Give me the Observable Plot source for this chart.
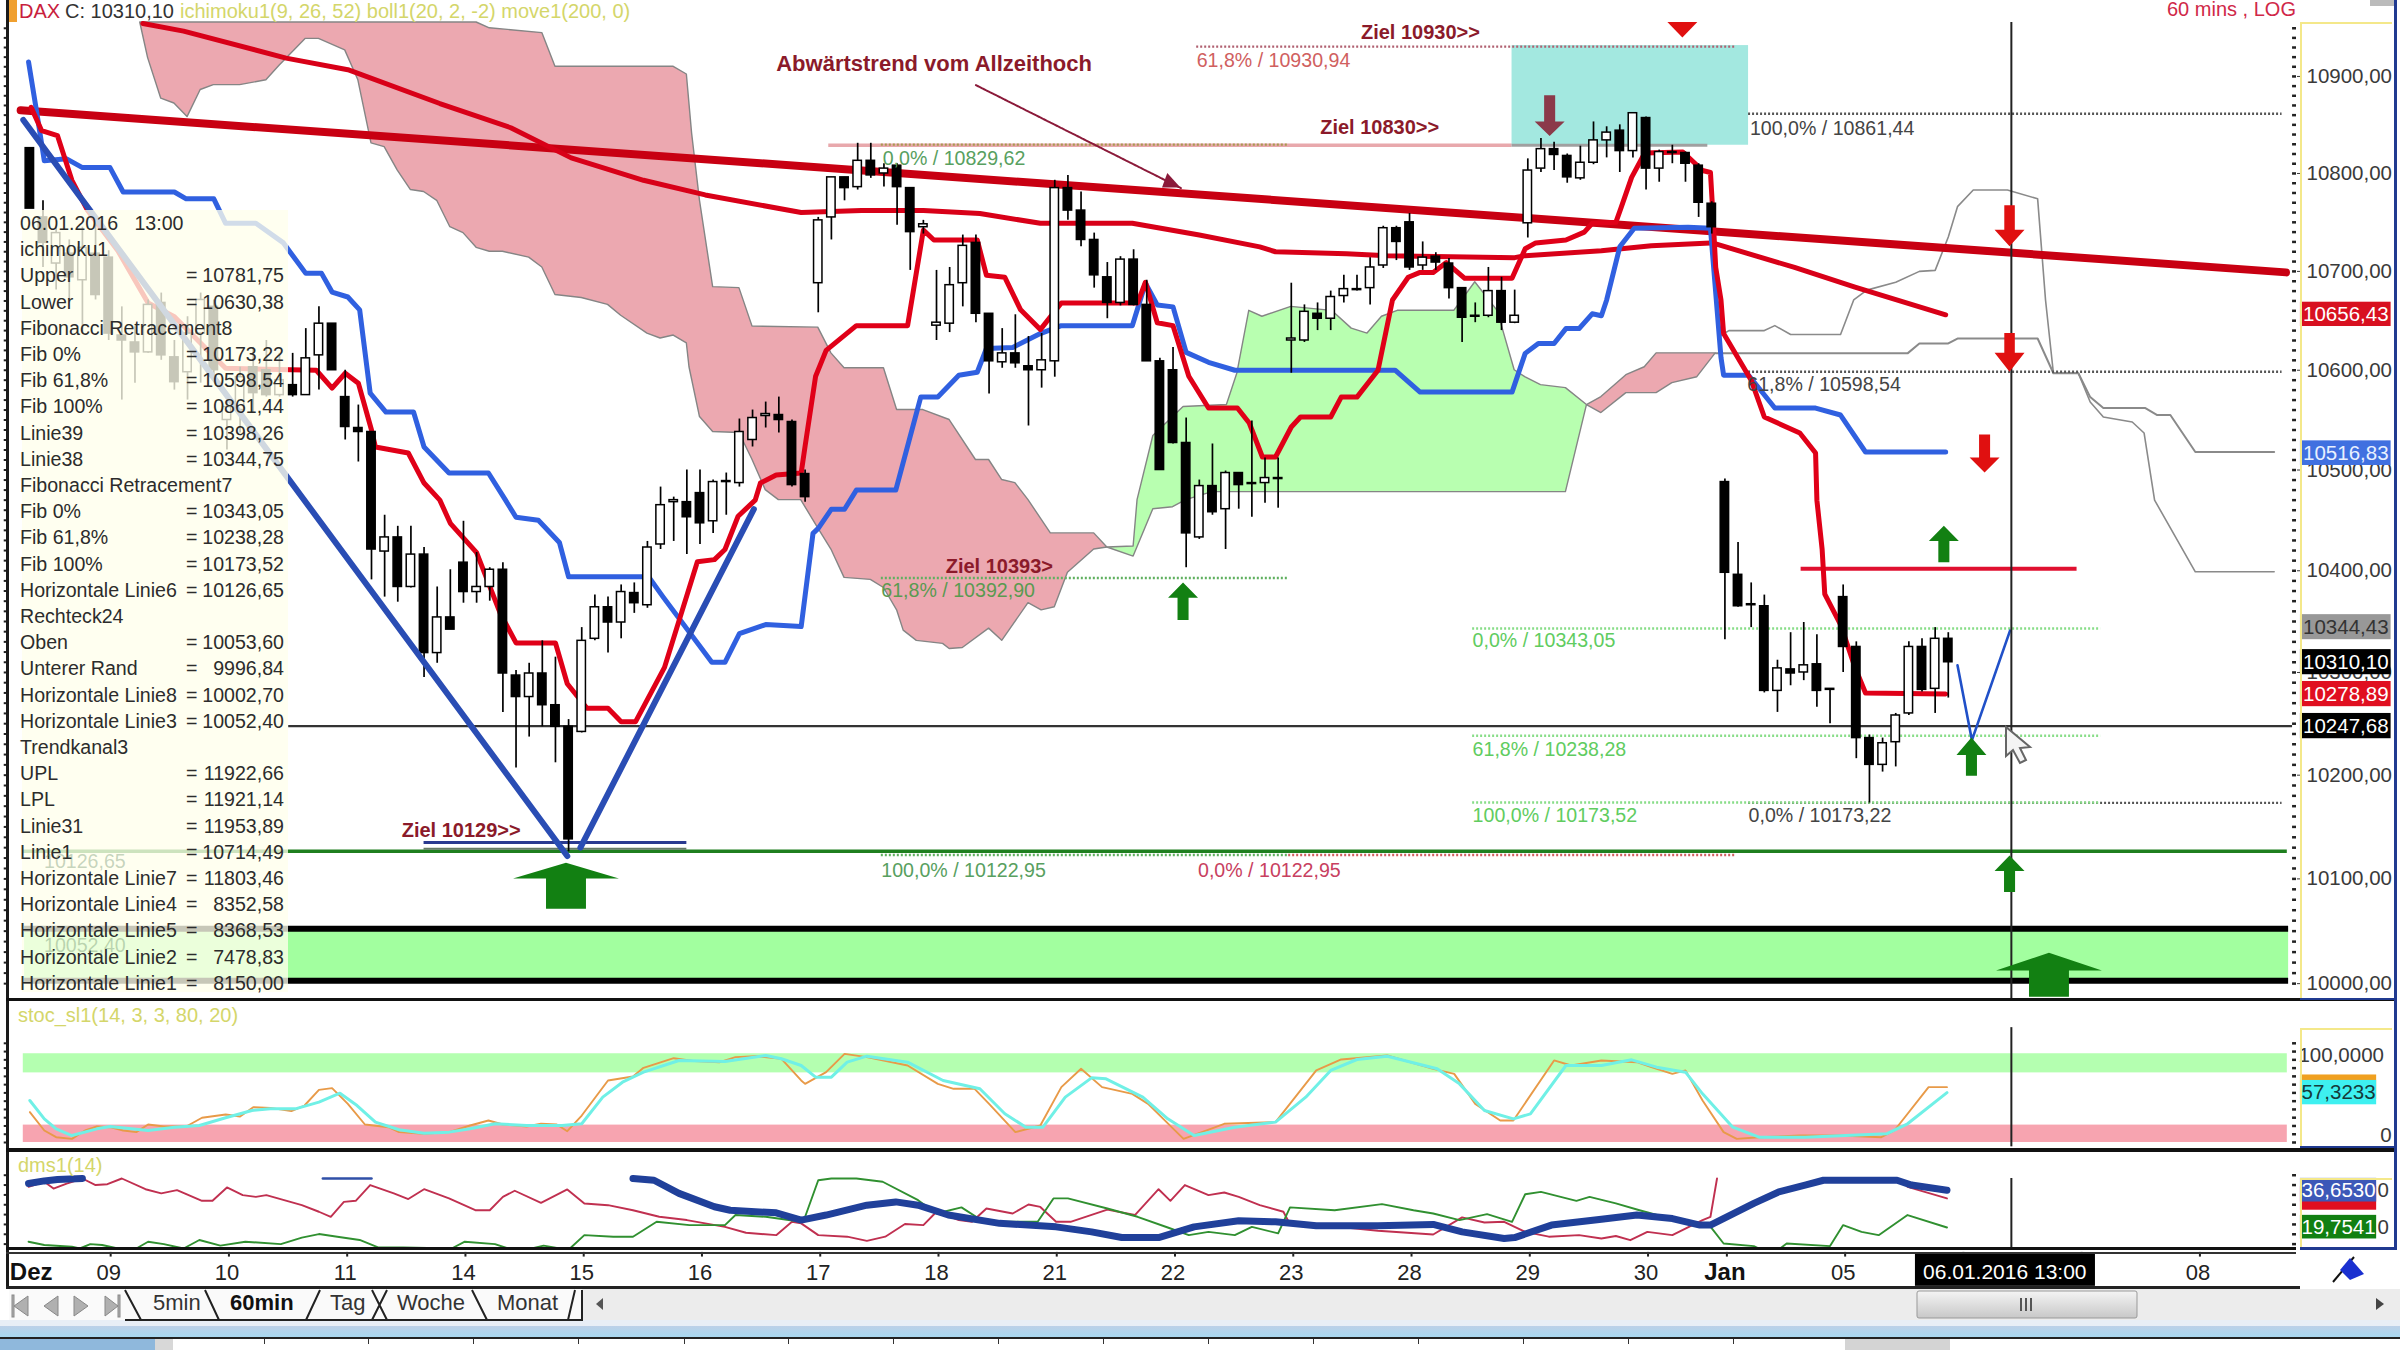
<!DOCTYPE html>
<html lang="de"><head><meta charset="utf-8">
<script src="https://cdn.jsdelivr.net/npm/d3@7"></script>
<script src="https://cdn.jsdelivr.net/npm/@observablehq/plot@0.6"></script>
<style>
html,body{margin:0;padding:0;background:#fff;}
#page{position:relative;width:2400px;height:1350px;overflow:hidden;background:#fff;font-family:"Liberation Sans",Arial,sans-serif;}
#page>svg,.abs{position:absolute;}
.lg{position:absolute;left:20px;font-size:19.6px;color:#2c2c2c;white-space:pre;line-height:26px;height:26px;}
.t{position:absolute;white-space:pre;line-height:1;}
</style></head><body><div id="page"></div>
<script>
// [bar, open, high, low, close]
const candles=[[-6,10826,10826,10764,10764],[-5,10755,10772,10704,10729],[-4,10708,10745,10681,10739],[-3,10718,10732,10671,10694],[-2,10691,10745,10637,10724],[-1,10718,10755,10671,10676],[0,10714,10721,10630,10637],[1,10635,10664,10570,10630],[2,10628,10644,10587,10618],[3,10618,10671,10617,10666],[4,10668,10678,10610,10615],[5,10613,10630,10580,10588],[6,10598,10654,10570,10637],[7,10637,10678,10587,10671],[8,10664,10671,10593,10600],[9,10550,10570,10520,10563],[10,10560,10603,10537,10593],[11,10603,10623,10557,10577],[12,10600,10630,10573,10575],[13,10575,10617,10573,10590],[14,10585,10617,10573,10575],[15,10575,10642,10575,10612],[16,10615,10664,10580,10647],[17,10647,10647,10600,10600],[18,10573,10600,10530,10543],[19,10542,10565,10508,10538],[20,10538,10538,10391,10421],[21,10419,10455,10374,10433],[22,10433,10444,10369,10384],[23,10384,10444,10383,10416],[24,10416,10423,10295,10319],[25,10319,10384,10309,10354],[26,10354,10401,10344,10342],[27,10408,10449,10368,10379],[28,10379,10418,10368,10384],[29,10384,10403,10370,10401],[30,10401,10408,10261,10299],[31,10297,10302,10207,10276],[32,10276,10309,10237,10299],[33,10299,10331,10247,10268],[34,10268,10315,10212,10247],[35,10247,10254,10126,10138],[36,10242,10344,10241,10331],[37,10333,10376,10331,10364],[38,10364,10374,10319,10349],[39,10349,10386,10333,10379],[40,10378,10388,10358,10368],[41,10366,10429,10363,10423],[42,10426,10483,10421,10465],[43,10468,10473,10429,10470],[44,10468,10500,10416,10453],[45,10477,10500,10426,10447],[46,10449,10490,10437,10488],[47,10488,10497,10455,10489],[48,10487,10551,10483,10538],[49,10530,10560,10523,10552],[50,10554,10568,10542,10556],[51,10555,10573,10537,10550],[52,10548,10550,10483,10485],[53,10496,10500,10468,10473],[54,10688,10755,10658,10752],[55,10755,10796,10732,10796],[56,10796,10796,10772,10785],[57,10786,10831,10783,10813],[58,10813,10831,10795,10798],[59,10800,10810,10786,10805],[60,10808,10810,10747,10786],[61,10785,10785,10701,10740],[62,10745,10752,10738,10748],[63,10645,10701,10630,10648],[64,10647,10704,10638,10686],[65,10688,10737,10664,10726],[66,10729,10737,10648,10657],[67,10657,10657,10576,10609],[68,10608,10642,10602,10617],[69,10617,10656,10602,10607],[70,10604,10634,10544,10600],[71,10600,10637,10582,10610],[72,10609,10793,10593,10785],[73,10785,10798,10752,10762],[74,10762,10781,10725,10732],[75,10732,10739,10683,10696],[76,10694,10709,10652,10668],[77,10668,10715,10665,10712],[78,10712,10722,10665,10666],[79,10666,10691,10609,10609],[80,10609,10612,10500,10500],[81,10600,10623,10526,10527],[82,10527,10552,10403,10437],[83,10433,10490,10431,10484],[84,10484,10526,10455,10458],[85,10461,10499,10421,10497],[86,10497,10497,10461,10485],[87,10486,10549,10453,10487],[88,10487,10512,10467,10492],[89,10491,10512,10462,10492],[90,10630,10688,10597,10632],[91,10630,10666,10628,10659],[92,10657,10668,10640,10652],[93,10652,10680,10640,10674],[94,10675,10696,10668,10682],[95,10681,10696,10680,10682],[96,10683,10714,10666,10704],[97,10706,10746,10703,10744],[98,10744,10746,10711,10730],[99,10750,10759,10701,10704],[100,10706,10730,10701,10714],[101,10715,10719,10701,10709],[102,10708,10713,10672,10683],[103,10683,10683,10628,10653],[104,10654,10668,10648,10655],[105,10655,10704,10653,10680],[106,10680,10694,10640,10648],[107,10648,10681,10647,10655],[108,10749,10815,10734,10803],[109,10805,10836,10801,10825],[110,10825,10832,10803,10819],[111,10818,10820,10790,10796],[112,10795,10828,10793,10811],[113,10811,10853,10809,10834],[114,10834,10848,10816,10842],[115,10844,10850,10801,10823],[116,10823,10862,10816,10862],[117,10857,10858,10783,10805],[118,10805,10824,10791,10822],[119,10821,10829,10810,10822],[120,10821,10822,10791,10810],[121,10808,10810,10755,10770],[122,10769,10771,10738,10745],[123,10488,10491,10332,10398],[124,10396,10428,10364,10365],[125,10366,10388,10344,10367],[126,10365,10376,10280,10282],[127,10282,10312,10261,10304],[128,10303,10339,10287,10299],[129,10300,10349,10292,10307],[130,10308,10337,10266,10282],[131,10283,10284,10250,10284],[132,10374,10386,10300,10325],[133,10325,10330,10216,10236],[134,10236,10239,10173,10210],[135,10210,10236,10203,10231],[136,10232,10260,10208,10258],[137,10260,10330,10258,10325],[138,10325,10333,10281,10283],[139,10284,10344,10260,10333],[140,10333,10339,10275,10310]];
const tenkan=[[-5.9,10868],[-5.1,10844],[-3.9,10839],[-2.8,10793],[-1.6,10762],[.7,10721],[3,10668],[5,10654],[8.9,10602],[15.8,10600],[17,10582],[18,10597],[19,10587],[20,10540],[20.3,10523],[22.8,10517],[24,10487],[25.2,10470],[26,10447],[28,10418],[29.8,10358],[31,10329],[34,10329],[34.9,10289],[36.4,10265],[38,10265],[39,10252],[40.1,10252],[42.3,10305],[44.8,10409],[46.1,10411],[46.9,10421],[47.9,10454],[49.2,10470],[49.6,10487],[50.8,10495],[52.7,10497],[53,10524],[53.8,10594],[54.6,10620],[56.9,10645],[60.8,10645],[62,10742],[62.8,10732],[66.1,10732],[66.8,10696],[68.2,10694],[69.4,10661],[70.9,10641],[72.5,10668],[78.3,10668],[78.9,10689],[79.8,10648],[81,10645],[82.2,10594],[83.7,10562],[85.9,10562],[86.8,10547],[87.8,10513],[88.8,10513],[90,10543],[90.7,10553],[93,10553],[93.8,10573],[95,10573],[96.6,10600],[97.7,10671],[98.9,10694],[99.8,10699],[100.8,10699],[101.8,10709],[103.2,10693],[106.8,10693],[107.8,10723],[108.6,10729],[110.9,10732],[112.3,10740],[112.9,10749],[114.7,10750],[115.1,10765],[115.9,10796],[116.9,10821],[119.8,10822],[121.3,10803],[121.9,10801],[122.1,10755],[122.3,10704],[122.7,10671],[122.9,10637],[125,10590],[126,10553],[128.7,10537],[129.9,10517],[130,10470],[130.4,10421],[130.6,10377],[131.8,10347],[132.9,10305],[133.7,10280],[139.8,10279]];
const kijun=[[-6.1,10915],[-5.5,10865],[-4.9,10813],[-3.2,10815],[-2,10806],[.1,10806],[1.1,10781],[5,10781],[5.9,10774],[8,10774],[8.9,10749],[11.2,10749],[13.3,10729],[13.9,10718],[15,10698],[16.2,10698],[17,10679],[18.2,10674],[19.1,10661],[19.9,10577],[21.1,10558],[23.2,10558],[24,10523],[25.9,10497],[28.9,10497],[30.2,10470],[31,10453],[32.7,10450],[34.3,10428],[35,10394],[41.1,10394],[42.2,10374],[45.9,10310],[46.9,10310],[48,10338],[50,10347],[52.7,10345],[53.6,10437],[54,10442],[55,10461],[56,10461],[56.9,10480],[59.9,10480],[61.8,10573],[63.1,10573],[64.7,10595],[66.1,10598],[66.8,10622],[68.8,10623],[70.9,10637],[72.5,10645],[77.9,10645],[78.9,10688],[79.8,10666],[81,10664],[82,10618],[83.7,10608],[85.7,10600],[97.9,10600],[99.8,10578],[106.8,10578],[107.8,10617],[108.8,10627],[110,10627],[110.9,10642],[111.9,10642],[112.9,10657],[113.6,10655],[114,10671],[115,10725],[116.1,10744],[120.2,10745],[121.9,10744],[122.7,10613],[122.9,10595],[124.8,10595],[126.8,10562],[129.9,10562],[131.8,10555],[133.7,10518],[139.8,10518]];
const movingAvg=[[2.6,10955],[5.7,10947],[13.5,10919],[18.2,10907],[25.2,10872],[30.6,10847],[35.2,10816],[40.7,10793],[45.4,10778],[52.7,10760],[57.3,10762],[62,10762],[66.3,10759],[70.9,10749],[77.9,10749],[83,10737],[87.6,10725],[88.8,10720],[94.2,10718],[97.3,10716],[107,10714],[107.8,10716],[113.6,10721],[117.4,10726],[121.9,10729],[122.3,10728],[128.3,10704],[132.9,10684],[139.8,10656]];
const spanA=[[122.3,10617],[136.9,10617],[137.8,10627],[140,10627],[140.7,10632],[146.8,10632],[148,10597],[149.9,10597],[150.8,10573],[151.8,10562],[155,10562],[155.9,10555],[156.9,10555],[158.8,10518],[164.8,10518]];
const spanB=[[122.7,10635],[123.3,10640],[126,10640],[126.8,10645],[128,10636],[131.8,10636],[132.8,10671],[133.8,10681],[136,10689],[137.8,10700],[139,10701],[140,10735],[140.7,10766],[141.9,10783],[144.5,10783],[146.8,10774],[147.4,10671],[148,10597],[149.9,10597],[150.8,10568],[151.8,10553],[154,10548],[154.9,10537],[155.7,10470],[158.8,10399],[164.8,10399]];
const cloudPink1=[[2.4,10956],[28,10956],[29,10950],[33,10945],[34,10910],[43,10910],[44,10902],[44.4,10841],[45,10772],[46,10684],[48,10683],[49,10644],[54,10643],[55,10617],[56,10602],[59,10602],[60,10560],[62,10560],[64,10550],[66,10510],[67,10510],[68,10490],[69,10487],[70,10470],[71.7,10437],[75,10437],[76,10423],[75,10421],[73,10398],[72,10364],[71,10361],[70,10368],[68,10331],[67,10343],[65,10324],[64,10323],[63.5,10328],[61.5,10331],[60.5,10341],[60,10361],[59,10383],[58,10391],[56,10393],[55,10421],[54,10442],[52.7,10470],[51,10470],[50,10480],[49,10510],[48,10537],[46,10538],[45,10553],[44.2,10603],[44,10627],[43,10635],[42,10632],[41,10637],[39,10655],[38,10666],[36,10673],[34,10676],[33,10704],[32,10714],[30,10720],[29,10720],[28,10724],[27,10739],[26,10745],[25,10772],[24,10781],[23,10783],[22,10803],[21,10827],[20,10831],[19,10896],[18,10927],[16,10939],[15,10939],[13,10911],[12,10896],[10,10891],[8,10891],[7,10886],[6,10858],[5,10872],[4,10877],[3,10919],[2.4,10956]];
const cloudGreen=[[76,10423],[78,10424],[78.3,10470],[79.5,10534],[81.8,10563],[85.1,10565],[85.9,10597],[86.8,10660],[87.8,10654],[90,10664],[93.1,10660],[94.6,10642],[95.8,10637],[96.9,10654],[98.1,10660],[102.4,10660],[104,10689],[105.7,10660],[107,10600],[107.8,10593],[109,10585],[110.9,10582],[112.5,10565],[110.9,10478],[84,10478],[82,10470],[81,10463],[79.5,10461],[78,10414],[76,10423]];
const cloudPink2=[[112.5,10565],[113.6,10573],[115.5,10595],[116.9,10603],[117.8,10617],[122.3,10617],[120.9,10593],[119,10587],[117.8,10577],[115.5,10577],[113.6,10557],[112.5,10565]];
const trendRed=[[-6.7,10865],[165.7,10699]];
const vLeft=[[-6.5,10855],[34.9,10122]];
const vRight=[[35.9,10130],[49.1,10461]];
const vSmall=[[140.7,10307],[141.8,10234],[144.7,10341]];
// horizontal levels: price, from bar, to bar
const solidLevels=[[10247.68,13.7,166.2,"#333",2.2],[10126.65,-6.5,165.8,"#1f7f1f",3.5],[10135,24,44,"#2a3a90",3],[10129,24,44,"#667a66",2],[10829,54.8,106.8,"#e8a8ac",3.5],[10829,106.8,121.7,"#a0a0a0",3],[10402,128.8,149.8,"#e01030",4]];
const heavyLevels=[10052.40,10002.70];
const dottedLevels=[[10829.62,58.8,89.8,"#a89a50"],[10930.94,82.8,123.8,"#b06070"],[10861.44,124.8,165.4,"#555"],[10598.54,124.8,165.4,"#555"],[10173.22,124.8,165.4,"#555"],[10392.90,58.8,89.8,"#60b060"],[10122.95,58.8,89.8,"#60b060"],[10122.95,89.8,123.8,"#d06060"],[10343.05,103.8,151.6,"#88dd88"],[10238.28,103.8,151.6,"#88dd88"],[10173.52,103.8,151.6,"#88dd88"]];
// block arrows: bar, tip, neck, tail, head half width, shaft half width, colour
const arrows=[[34.84,10115,10100,10071,4.03,1.52,"#128012"],[81.8,10388,10373,10351,1.14,.42,"#128012"],[109.7,10838,10853,10880,1.14,.42,"#8b3a4a"],[119.8,10940,10956,10956,1.14,0,"#e01010"],[144.7,10725,10742,10767,1.14,.4,"#e01010"],[144.7,10598,10617,10637,1.14,.4,"#e01010"],[142.8,10497,10512,10535,1.14,.42,"#e01010"],[139.7,10444,10429,10408,1.14,.42,"#128012"],[141.8,10236,10219,10199,1.14,.42,"#128012"],[144.7,10122,10107,10087,1.14,.42,"#128012"],[147.7,10029,10012,9987,4.03,1.52,"#128012"]];
const pointerLine=[66,10891,81.6,10785];
const pointerHead=[[81.6,10785],[80.6,10800],[80.2,10785],[81.6,10785]];
// labels: text, bar, price, colour, font size, bold
const notes=[["Abwärtstrend vom Allzeithoch",50.8,10913,"#8b1a2a",22,1],["Ziel 10930>>",95.3,10945,"#8b1a2a",20,1],["61,8% / 10930,94",82.8,10916,"#d06060",19.6,0],["Ziel 10830>>",92.2,10847,"#8b1a2a",20,1],["0,0% / 10829,62",58.9,10815,"#58a060",19.6,0],["100,0% / 10861,44",124.9,10846,"#444",19.6,0],["61,8% / 10598,54",124.7,10585,"#444",19.6,0],["Ziel 10393>",63.7,10404,"#8b1a2a",20,1],["61,8% / 10392,90",58.8,10380,"#5a9a50",19.6,0],["Ziel 10129>>",22.3,10146,"#8b1a2a",20,1],["100,0% / 10122,95",58.8,10108,"#58a060",19.6,0],["0,0% / 10122,95",82.9,10108,"#c84060",19.6,0],["0,0% / 10343,05",103.8,10331,"#60cc60",19.6,0],["61,8% / 10238,28",103.8,10225,"#60cc60",19.6,0],["100,0% / 10173,52",103.8,10161,"#60cc60",19.6,0],["0,0% / 10173,22",124.8,10161,"#444",19.6,0]];
const priceTicks=[10000,10100,10200,10300,10400,10500,10600,10700,10800,10900];
const priceTags=[[10656.43,"10656,43","#d81020","#fff"],[10516.83,"10516,83","#4070e0","#e8f0ff"],[10344.43,"10344,43","#989898","#333"],[10278.89,"10278,89","#e00f20","#fff"],[10310.10,"10310,10","#000","#fff"],[10247.68,"10247,68","#000","#fff"]];
const legendNames=["06.01.2016   13:00","ichimoku1","Upper","Lower","Fibonacci Retracement8","Fib 0%","Fib 61,8%","Fib 100%","Linie39","Linie38","Fibonacci Retracement7","Fib 0%","Fib 61,8%","Fib 100%","Horizontale Linie6","Rechteck24","Oben","Unterer Rand","Horizontale Linie8","Horizontale Linie3","Trendkanal3","UPL","LPL","Linie31","Linie1","Horizontale Linie7","Horizontale Linie4","Horizontale Linie5","Horizontale Linie2","Horizontale Linie1"];
const legendValues=["","","10781,75","10630,38","","10173,22","10598,54","10861,44","10398,26","10344,75","","10343,05","10238,28","10173,52","10126,65","","10053,60","9996,84","10002,70","10052,40","","11922,66","11921,14","11953,89","10714,49","11803,46","8352,58","8368,53","7478,83","8150,00"];
// stochastic
const stocK=[[-6,34.9],[-4.9,13.8],[-4,6.1],[-2.8,4.2],[-1.8,13.8],[-.9,18.4],[.1,17.6],[1.1,13.8],[2.1,11.9],[3,20.7],[4.2,18.4],[5.9,18.4],[7.1,28.4],[8.9,32.2],[10,29.9],[11,40.6],[12.3,39.8],[13.9,36],[14.9,42.5],[16,60.5],[17,62.5],[18.2,44.4],[19.5,20.7],[21.3,17.6],[22.1,11.9],[24,10],[25.9,11.9],[27.5,19.5],[28.9,25.3],[30,20.7],[31.8,18.4],[32.9,21.5],[34.1,20.7],[34.9,13],[36,31],[38,71.3],[39.9,75.9],[40.7,85.8],[43,96.9],[44.6,93.5],[46.5,92.3],[47.7,98.1],[49.2,99.2],[51.2,96.2],[52.7,71.3],[53,67.4],[54.6,80.8],[56,101.9],[57.7,98.1],[60.8,88.5],[63.1,67.4],[64.3,61.7],[65.9,61.7],[67,44.4],[69,11.9],[70.9,19.5],[72.5,63.6],[74,84.7],[75.6,63.6],[77.9,55.9],[79.1,44.4],[81.8,4.2],[84.9,21.5],[88.8,23.4],[91.9,82.8],[93.8,95.4],[97.3,100],[100.8,84.7],[102.4,78.9],[104,44.4],[105.9,25.3],[106.9,25.3],[110,94.3],[111.3,88.5],[113.6,94.3],[116.3,92.3],[117.4,86.6],[119,78.9],[120,82.8],[121.3,48.3],[122.9,11.9],[123.9,4.2],[125.6,6.1],[128.7,8],[131.8,8],[134.9,6.1],[135.9,13.8],[138.5,63.6],[139.9,63.6]];
const stocD=[[-6,48.3],[-4.9,27.2],[-4,15.7],[-2.8,8],[-.9,15.7],[.1,18.4],[3,13.8],[5,17.6],[6.9,19.5],[8.9,28.4],[10.9,36.8],[12.3,38.7],[14.2,38.7],[16,46.4],[17.6,56.7],[18.9,42.5],[20.3,23.4],[22.1,14.6],[24,10.7],[25.9,11.9],[27.5,15.7],[29.4,21.5],[31.8,19.5],[34.5,19.5],[36,21.5],[37.6,52.1],[39.1,69.3],[40.7,80.8],[43.4,94.2],[46.9,93.1],[50,100],[51.2,96.2],[52.7,88.5],[53.8,75.1],[55,75.1],[56.2,92.3],[57.7,99.2],[60.8,92.3],[63.5,71.3],[66.3,61.7],[68.2,33],[69.8,17.6],[71.1,17.6],[72.8,52.1],[74.8,74.3],[75.9,73.2],[78.7,52.1],[80.6,27.2],[82.6,8],[85.7,17.6],[88.8,23.4],[91.1,52.1],[93,82.8],[95,95.4],[97.3,99.2],[101.1,84.7],[102.8,67.4],[104.7,36.8],[106.9,27.2],[108.2,32.9],[110.9,88.5],[113.6,88.5],[115.9,95],[117.8,86.6],[120,80.8],[121.3,55.9],[123.6,17.6],[125.6,6.1],[129.1,6.1],[132.2,8],[135.3,10],[136.9,21.5],[139.9,57.3]];
// directional movement
const dmsRed=[[-6.1,38.2],[-4.9,40.5],[-4.2,37.4],[-3.2,39.7],[-2,42],[-1,39],[-.1,39.4],[1,42],[2.8,37.1],[4,35.2],[5.2,36.7],[7.1,31.8],[7.9,31.8],[9,37.9],[10.2,34.4],[11.2,33.6],[12,34.4],[14.7,29.8],[16,26.8],[16.9,24.5],[17.9,31.3],[18.8,31.8],[19.9,39],[21.7,35.2],[22.8,32.6],[24,37.1],[25.9,32.9],[27.9,27.5],[29,27.5],[30,33.6],[30.9,36.4],[32.9,30.9],[34.9,37],[36.2,30.6],[38,29.8],[39.9,27.5],[41.9,24.5],[44,23],[46.9,19.9],[48.5,17.2],[50.8,16.1],[52,22.2],[52.7,21.5],[54,16.1],[56.2,15.4],[57.7,13.5],[59.1,15.4],[60.6,21.2],[62,20.7],[63,26.8],[64.7,23],[65.7,22.2],[66.8,28.3],[68.8,26],[70,30.1],[70.9,29],[72.1,22.2],[73.2,22.2],[76,27.8],[78.1,25.3],[79.9,37.1],[80.8,31.8],[81.9,39],[83.7,34.4],[84.9,35.6],[86,33.6],[87.6,29.8],[89.4,26.8],[89.8,22.2],[96.6,18.1],[100.8,16.4],[103,24.2],[104.7,21.9],[106.2,22.2],[107.8,17.6],[109.6,15.4],[111.9,16.1],[113.6,14.6],[114.7,15.7],[115.8,13.8],[117.1,17.6],[119,16.1],[120.3,20],[121.3,23],[121.9,24.5],[122.4,42]];
const dmsRedEnd=[[136.9,38.2],[139.9,32.9]];
const dmsGreen=[[-6.1,13.1],[-4.9,11.6],[-2.8,10.8],[-2.2,10],[-1.4,12],[-.5,11.6],[.7,10],[2.1,10],[3,13.1],[4.2,12],[5.7,10],[6.9,13.9],[8.5,11.3],[10.4,13.1],[13.1,12],[14.7,15],[16,16.6],[17.4,15.4],[19.1,13.9],[20.5,10.5],[22.4,10.5],[26.1,10],[27.1,13.1],[29.4,12],[30.4,10],[32.2,10],[33.1,11.3],[34.1,10.3],[35.1,10],[36.2,16.1],[38.4,15.4],[39.9,15.4],[41.7,22.2],[44.2,20.7],[46.9,20.7],[47.7,25.3],[50,24.5],[52.7,22.2],[53,24.5],[54,41.2],[55,42],[56.9,42],[58.9,40.5],[61.6,32.1],[63,26],[64.9,28.8],[66.6,22.2],[70.7,22.2],[71.9,32.9],[73,32.9],[76,28.3],[78.3,24.5],[80.6,19.6],[82.2,16.1],[83.7,17.6],[85.7,16.1],[87,19.9],[89,16.9],[89.9,28.8],[93.3,27.5],[96.9,30.3],[99.3,27.5],[100.8,26],[102.8,23],[104.9,25.7],[106.8,22.2],[107.8,34.8],[109,35.9],[111.7,31.8],[112.7,33.6],[114.7,30.6],[116.5,27.5],[120.2,21.5],[121.1,20.7],[121.9,20],[122.9,12.3],[125.2,11.1],[125.6,10],[127.2,10],[127.7,12.3],[131,11.1],[132,20.7],[133.4,17.6],[134.7,16.1],[136.9,25.3],[139.9,19.6]];
const adxStart=[[-6.1,39.7],[-4.9,40.9],[-3.9,41.5],[-2,42]];
const adxFlat=[[16.3,42],[20,42]];
const adxMain=[[39.9,42],[41.5,41.2],[43.4,35.2],[46.1,29.1],[47.3,27.5],[50.8,26.3],[52.7,23],[54.6,25.3],[57.7,29.8],[59.9,31.3],[61.6,29.8],[63.9,25.3],[67.8,21.5],[72.1,19.9],[74.8,17.6],[77.1,15],[79.9,15],[82.6,19.9],[86,22.7],[88.8,22.2],[91.9,20.4],[96.6,20.4],[100.8,21],[103,17.6],[106.2,14.6],[107,15],[109.8,20.7],[113.6,23.4],[116.3,25.3],[119,23.7],[121.1,20.7],[121.9,20.7],[125.2,30.6],[127.1,35.9],[129.1,39],[130.5,41.2],[136.1,41.2],[137.2,39],[139.9,36.6]];
// time axis
const dayBars=[0,9,18,27,36,45,54,63,72,81,90,99,108,117,123,132,141,150,159];
const dayLabels=["09","10","11","14","15","16","17","18","21","22","23","28","29","30","Jan","05","","","08"];

const X={domain:[-8.234,166.5],range:[0,2296],axis:null};
const FONT='"Liberation Sans",Arial,sans-serif';
const crossBar=144.8;
const page=document.getElementById("page");
const base=(h,y,marks)=>Plot.plot({width:2400,height:h,marginLeft:0,marginRight:104,marginTop:0,marginBottom:0,
    x:X,y:{...y,axis:null},color:{type:"identity"},style:{background:"transparent",fontFamily:FONT,overflow:"visible"},marks});
const fmt2=d=>d.toFixed(2).replace(".",",");
const px=d=>d[0],py=d=>d[1];
const poly=(pts,o)=>Plot.area(pts,{x1:px,y1:py,x2:()=>pts[0][0],y2:()=>pts[0][1],...o});
const arrowPts=([c,tip,neck,tail,h,s])=>[[c-s,tail],[c+s,tail],[c+s,neck],[c+h,neck],[c,tip],[c-h,neck],[c-s,neck],[c-s,tail]];
const line=(d,stroke,w,o={})=>Plot.line(d,{x:px,y:py,stroke,strokeWidth:w,strokeLinejoin:"round",...o});
const minorPrice=d3.range(10000,10960,10);

const mainSvg=base(1000,{type:"log",domain:[9984,10956],range:[1000,22]},[
  Plot.rect([0],{x1:106.8,x2:124.8,y1:10829,y2:10932,fill:"#a3e8e0"}),
  poly(cloudPink1,{fill:"#eca8b0",stroke:"#858585",strokeWidth:1.4}),
  poly(cloudGreen,{fill:"#b8ffb0",stroke:"#858585",strokeWidth:1.4}),
  poly(cloudPink2,{fill:"#eca8b0",stroke:"#858585",strokeWidth:1.4}),
  line(spanA,"#8a8a8a",2),line(spanB,"#8a8a8a",1.6),
  Plot.rect([0],{x1:-6.4,x2:165.9,y1:heavyLevels[1],y2:heavyLevels[0],fill:"#a2ff9f"}),
  Plot.ruleY(solidLevels,{y:d=>d[0],x1:d=>d[1],x2:d=>d[2],stroke:d=>d[3],strokeWidth:d=>d[4]}),
  Plot.ruleY(heavyLevels,{x1:-6.4,x2:165.9,stroke:"#000",strokeWidth:6}),
  Plot.ruleY(dottedLevels,{y:d=>d[0],x1:d=>d[1],x2:d=>d[2],stroke:d=>d[3],strokeWidth:2.4,strokeDasharray:"2,2"}),
  line(trendRed,"#c80012",8),
  line(movingAvg,"#d80018",5),
  line(kijun,"#3060e0",5),
  line(tenkan,"#e00018",5),
  line(vSmall,"#2050c8",2.6),
  Plot.ruleX(candles,{x:d=>d[0],y1:d=>d[3],y2:d=>d[2],stroke:"#000",strokeWidth:1.7}),
  Plot.rect(candles,{x1:d=>d[0]-.32,x2:d=>d[0]+.32,y1:d=>d[1],y2:d=>d[4],fill:d=>d[4]>=d[1]?"#fff":"#000",stroke:"#000",strokeWidth:1.5}),
  line(vLeft,"#2a4db4",6),line(vRight,"#2a4db4",6),
  Plot.ruleX([crossBar],{y1:9984,y2:10956,stroke:"#222",strokeWidth:2}),
  ...arrows.map(a=>poly(arrowPts(a),{fill:a[6]})),
  Plot.arrow([pointerLine],{x1:d=>d[0],y1:d=>d[1],x2:d=>d[2],y2:d=>d[3],stroke:"#8b1a3a",strokeWidth:2,strokeDasharray:"3,1",headLength:0}),
  poly(pointerHead,{fill:"#8b1a3a"}),
  Plot.text(notes.filter(d=>d[5]),{text:d=>d[0],x:d=>d[1],y:d=>d[2],fill:d=>d[3],textAnchor:"start",fontSize:d=>d[4],fontWeight:"bold"}),
  Plot.text(notes.filter(d=>!d[5]),{text:d=>d[0],x:d=>d[1],y:d=>d[2],fill:d=>d[3],textAnchor:"start",fontSize:d=>d[4]}),
  Plot.ruleY(minorPrice,{x1:166.2,x2:166.5,stroke:"#222",strokeWidth:2.5}),
  Plot.ruleY(minorPrice,{x1:-7.95,x2:-7.65,stroke:"#222",strokeWidth:2}),
  Plot.axisY({anchor:"right",ticks:priceTicks,tickFormat:fmt2,tickSize:5,tickPadding:5,fontSize:20.5,label:null,color:"#3a3a3a"}),
  Plot.rect(priceTags,{x1:166.8,x2:173.7,y1:d=>d[0]-12.3,y2:d=>d[0]+12.3,fill:d=>d[2]}),
  Plot.text(priceTags,{text:d=>d[1],x:170.25,y:d=>d[0],fill:d=>d[3],fontSize:20.5})
]);
mainSvg.style.left="0";mainSvg.style.top="0";page.append(mainSvg);

const minorStoc=d3.range(0,116,9.5);
const stocSvg=base(149,{domain:[-8.05,163.2],range:[149,0]},[
  Plot.rect([0],{x1:-6.5,x2:165.8,y1:80,y2:102,fill:"#b4ffb0"}),
  Plot.rect([0],{x1:-6.5,x2:165.8,y1:0,y2:20,fill:"#f7a4b0"}),
  line(stocK,"#e89a48",1.9),
  line(stocD,"#70f0e6",3),
  Plot.ruleX([crossBar],{y1:-5,y2:132,stroke:"#222",strokeWidth:2}),
  Plot.ruleY(minorStoc,{x1:166.2,x2:166.5,stroke:"#222",strokeWidth:2.5}),
  Plot.ruleY(minorStoc,{x1:-7.95,x2:-7.65,stroke:"#222",strokeWidth:2}),
  Plot.text(["100,0000"],{x:169.9,y:100,fontSize:20.5,fill:"#3a3a3a"}),
  Plot.text(["0"],{x:173.3,y:8,fontSize:20.5,fill:"#3a3a3a"}),
  Plot.rect([[63.6,"#f0a020"],[57.32,"#3ef0f0"]],{x1:166.8,x2:172.6,y1:d=>d[0]-14,y2:d=>d[0]+14,fill:d=>d[1]}),
  Plot.text(["57,3233"],{x:169.7,y:57.32,fontSize:20.5,fill:"#153a3a"})
]);
stocSvg.style.left="0";stocSvg.style.top="1000px";page.append(stocSvg);

const minorDms=d3.range(12,44,4.5);
const dmsTags=[[32.9,"#e00f20"],[36.653,"#3c58b8"],[19.7541,"#128012"]];
const dmsSvg=base(98,{domain:[10,54.8],range:[98,0]},[
  line(dmsRed,"#c03050",1.9),line(dmsRedEnd,"#c03050",1.9),
  line(dmsGreen,"#309030",1.9),
  line(adxStart,"#20409a",7),line(adxFlat,"#3050a8",2.6),line(adxMain,"#20409a",7),
  Plot.ruleX([crossBar],{y1:10,y2:42,stroke:"#222",strokeWidth:2}),
  Plot.ruleY(minorDms,{x1:166.2,x2:166.5,stroke:"#222",strokeWidth:2.5}),
  Plot.ruleY(minorDms,{x1:-7.95,x2:-7.65,stroke:"#222",strokeWidth:2}),
  Plot.rect(dmsTags,{x1:166.8,x2:172.6,y1:d=>d[0]-5.4,y2:d=>d[0]+5.4,fill:d=>d[1]}),
  Plot.text([[36.653,"36,6530","#fff"],[19.7541,"19,7541","#fff"]],{text:d=>d[1],x:169.7,y:d=>d[0],fill:d=>d[2],fontSize:20.5}),
  Plot.text([36.653,19.7541],{y:d=>d,x:173.1,text:()=>"0",fontSize:20.5,fill:"#3a3a3a"})
]);
dmsSvg.style.left="0";dmsSvg.style.top="1150px";page.append(dmsSvg);

const axSvg=base(39,{domain:[0,1],range:[39,0]},[
  Plot.ruleX(dayBars,{x:d=>d+.15,y1:.9,y2:.78,stroke:"#222",strokeWidth:2}),
  Plot.text(dayBars.map((b,k)=>[b,dayLabels[k]]).filter(d=>d[1]&&d[1]!=="Jan"),{x:d=>d[0],y:.38,text:d=>d[1],fontSize:22,fill:"#222"}),
  Plot.text([[-5.9,"Dez"],[123,"Jan"]],{x:d=>d[0],y:.38,text:d=>d[1],fontSize:24,fontWeight:"bold",fill:"#111"}),
  Plot.rect([0],{x1:137.5,x2:151.2,y1:.03,y2:.87,fill:"#000"}),
  Plot.text(["06.01.2016 13:00"],{x:144.3,y:.38,fontSize:21,fill:"#fff"})
]);
axSvg.style.left="0";axSvg.style.top="1248px";page.append(axSvg);

// chrome
const box=(l,t,w,h,bg)=>{const d=document.createElement("div");d.className="abs";d.style.cssText=`left:${l}px;top:${t}px;width:${w}px;height:${h}px;background:${bg}`;page.append(d);return d;};
const txt=(s,l,t,size,color,extra="")=>{const d=document.createElement("div");d.className="t";d.textContent=s;d.style.cssText=`left:${l}px;top:${t}px;font-size:${size}px;color:${color};${extra}`;page.append(d);return d;};
// legend
box(22,210,266,782,"rgba(255,255,236,.78)");
legendNames.forEach((n,k)=>{
  const top=210+k*26.2;
  const d=document.createElement("div");d.className="lg";d.style.top=top+"px";d.textContent=n;page.append(d);
  if(legendValues[k]){
    const e=document.createElement("div");e.className="lg";e.style.cssText=`top:${top}px;left:186px;`;e.textContent="=";page.append(e);
    const v=document.createElement("div");v.className="lg";v.style.cssText=`top:${top}px;left:auto;right:${2400-284}px;`;v.textContent=legendValues[k];page.append(v);
  }
});
txt("10126,65",44,852,19.6,"rgba(90,130,90,.35)");
txt("10052,40",44,936,19.6,"rgba(90,130,90,.35)");
// header
box(0,0,2400,21,"#fff");
box(8,0,9,22,"#f0a030");
txt("DAX",19,1,20,"#c8203c");txt("C: 10310,10",65,1,20,"#333");
txt("ichimoku1(9, 26, 52) boll1(20, 2, -2) move1(200, 0)",180,1,20,"#d4d66a");
txt("60 mins , LOG",2167,-1,20,"#d02848");
box(2370,0,26,6,"#bbb");
// panel frames
box(6,0,3,1288,"#1a1a1a");
box(6,998,2390,3,"#111");box(6,1148,2390,4,"#111");box(6,1247,2290,3,"#111");box(6,1252,2290,2,"#333");box(6,1286,2294,3,"#222");
box(2300,22,2,978,"#f4e88a");box(2300,22,92,2,"#f4e88a");box(2300,1028,2,118,"#f4e88a");box(2300,1028,92,2,"#f4e88a");box(2300,1178,2,70,"#f4e88a");box(2300,1178,92,2,"#f4e88a");
box(2394,0,3,1250,"#203a90");box(2300,1247,96,3,"#203a90");
box(2300,1146,96,2,"#203a90");box(2300,998,96,2,"#203a90");
// tab bar
box(9,1289,2391,31,"#ececec");box(9,1289,573,31,"#fafafa");
box(0,1320,2400,6,"#e8eef6");
box(0,1326,2400,11,"linear-gradient(#bcd0e8,#a8d8f0)");
box(0,1337,2400,2,"#222");
box(0,1339,155,11,"#8fb8dc");box(155,1339,18,11,"#d8d8d8");box(1845,1339,105,11,"#d4d4d4");
[264,368,473,578,684,788,893,998,1103,1208,1313,1418,1523,1628,1733].forEach(x=>box(x,1339,1,5,"#333"));
const ns="http://www.w3.org/2000/svg";
const chrome=document.createElementNS(ns,"svg");
chrome.setAttribute("width","2400");chrome.setAttribute("height","1350");chrome.style.cssText="left:0;top:0;pointer-events:none";
chrome.innerHTML=`
<g stroke="#222" stroke-width="2" fill="none">
<path d="M125 1290L141 1320M205 1290L219 1320"/>
<path d="M320 1290L306 1320M372 1290L387 1320M372 1320L387 1290M472 1290L487 1320M575 1290L568 1320M582 1290V1320H125"/>
</g>
<g fill="#b0b0b0" stroke="#888"><rect x="12" y="1295" width="2" height="22"/><path d="M28 1296L14 1306L28 1316Z"/><path d="M58 1296L44 1306L58 1316Z"/><path d="M74 1296L88 1306L74 1316Z"/><path d="M105 1296L118 1306L105 1316Z"/><rect x="118" y="1295" width="2" height="22"/></g>
<path d="M603 1298L596 1304L603 1310Z" fill="#555"/>
<path d="M2376 1298L2384 1304L2376 1310Z" fill="#444"/>
<defs><linearGradient id="sb" x1="0" x2="0" y1="0" y2="1"><stop offset="0" stop-color="#f4f4f4"/><stop offset="1" stop-color="#c8c8c8"/></linearGradient></defs>
<rect x="1917" y="1291" width="220" height="27" rx="2" fill="url(#sb)" stroke="#999"/>
<path d="M2021 1298V1311M2026 1298V1311M2031 1298V1311" stroke="#555" stroke-width="2"/>
<path d="M2333 1282L2354 1257" stroke="#111" stroke-width="2" fill="none"/><path d="M2350 1258L2364 1274L2350 1280L2340 1270Z" fill="#1a30d0"/>
<path d="M2006 727V756L2013 750L2020 763L2026 760L2020 748L2030 747Z" fill="#f4f4f4" stroke="#666" stroke-width="2"/>`;
page.append(chrome);
txt("5min",153,1292,22,"#333");txt("60min",230,1292,22,"#111","font-weight:bold");txt("Tag",330,1292,22,"#333");txt("Woche",397,1292,22,"#333");txt("Monat",497,1292,22,"#333");
txt("stoc_sl1(14, 3, 3, 80, 20)",18,1005,20,"#d4d66a");
txt("dms1(14)",18,1155,20,"#d4d66a");
</script></body></html>
